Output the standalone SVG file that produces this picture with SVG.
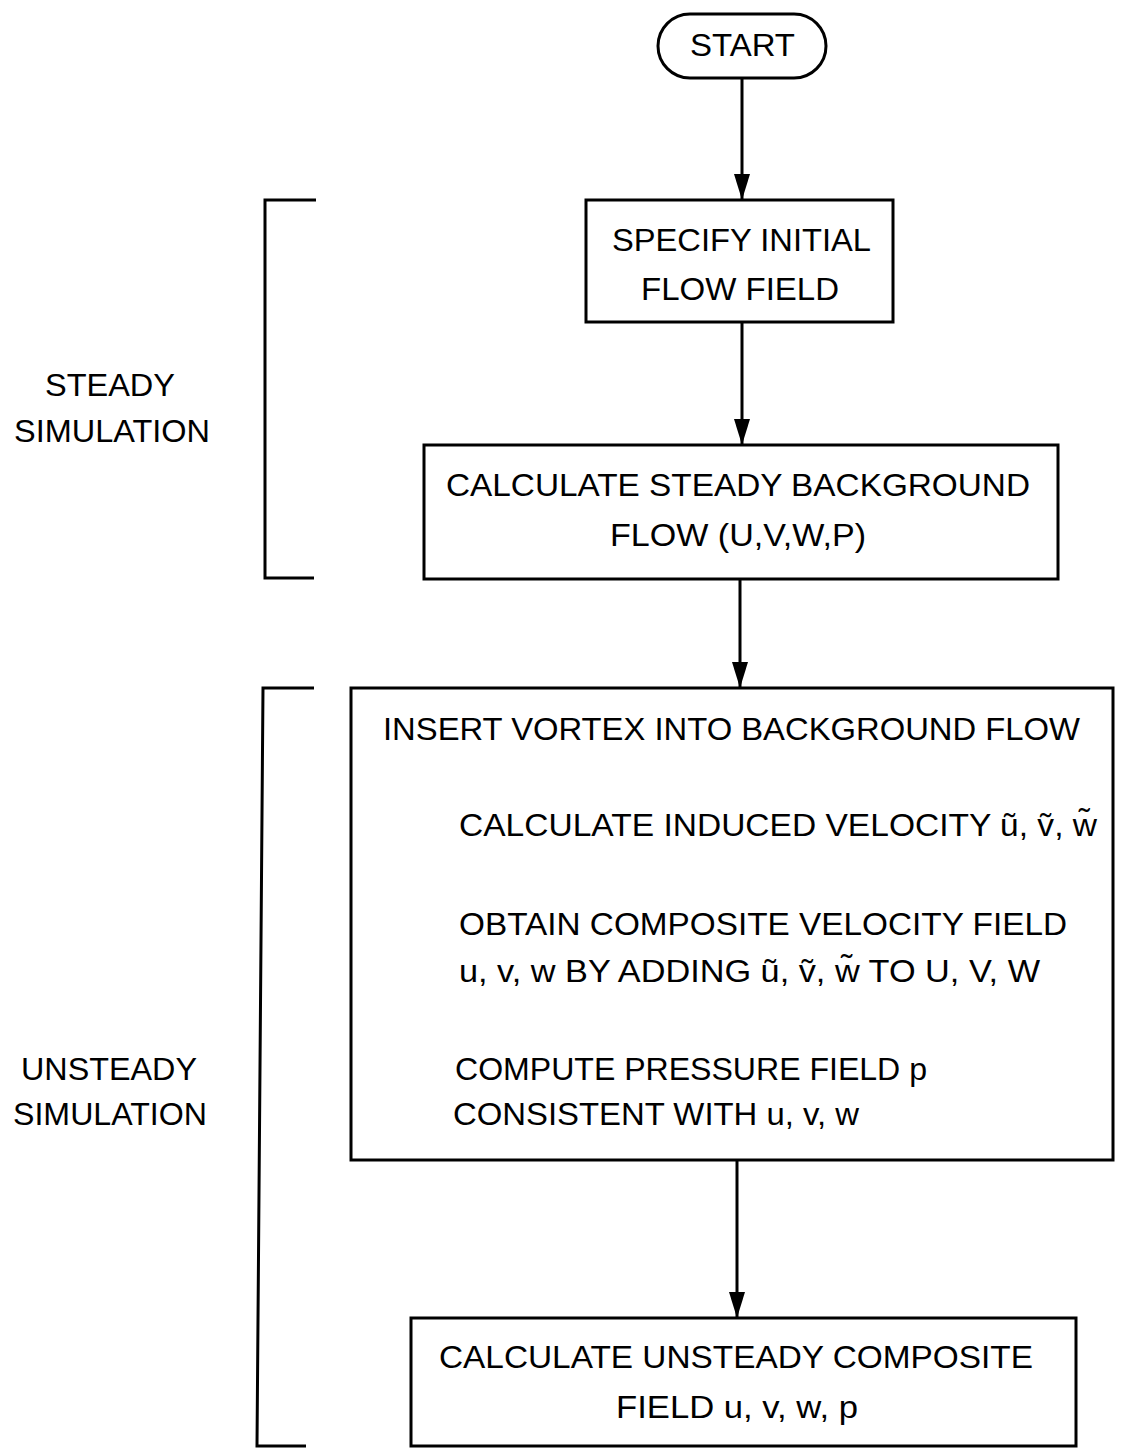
<svg xmlns="http://www.w3.org/2000/svg" width="1130" height="1451" viewBox="0 0 1130 1451">
<style>
.box{fill:#fff;stroke:#000;stroke-width:3}
.t{font-family:"Liberation Sans",Arial,sans-serif;font-size:32px;fill:#000}
.ln{fill:none;stroke:#000;stroke-width:3}
</style>
<defs>
<marker id="ah" markerWidth="26" markerHeight="16" refX="25" refY="8" orient="auto" markerUnits="userSpaceOnUse" viewBox="0 0 26 16">
<path d="M0,0 L26,8 L0,16 Z" fill="#000"/>
</marker>
</defs>
<rect width="1130" height="1451" fill="#fff"/>
<g id="connectors">
<line class="ln" x1="742" y1="78" x2="742" y2="199" marker-end="url(#ah)"/>
<line class="ln" x1="742" y1="322" x2="742" y2="444" marker-end="url(#ah)"/>
<line class="ln" x1="740" y1="579" x2="740" y2="687" marker-end="url(#ah)"/>
<line class="ln" x1="737" y1="1160" x2="737" y2="1317" marker-end="url(#ah)"/>
</g>
<g id="start">
<rect class="box" x="658" y="14" width="168" height="64" rx="32" ry="32"/>
<text class="t" x="690" y="56" textLength="105" lengthAdjust="spacingAndGlyphs">START</text>
</g>
<g id="specify">
<rect class="box" x="586" y="200" width="307" height="122"/>
<text class="t" x="612" y="251" textLength="259" lengthAdjust="spacingAndGlyphs">SPECIFY INITIAL</text>
<text class="t" x="641" y="300" textLength="198" lengthAdjust="spacingAndGlyphs">FLOW FIELD</text>
</g>
<g id="steady">
<rect class="box" x="424" y="445" width="634" height="134"/>
<text class="t" x="446" y="496" textLength="584" lengthAdjust="spacingAndGlyphs">CALCULATE STEADY BACKGROUND</text>
<text class="t" x="610" y="546" textLength="256" lengthAdjust="spacingAndGlyphs">FLOW (U,V,W,P)</text>
</g>
<g id="insert">
<rect class="box" x="351" y="688" width="762" height="472"/>
<text class="t" x="383" y="740" textLength="697" lengthAdjust="spacingAndGlyphs">INSERT VORTEX INTO BACKGROUND FLOW</text>
<text class="t" x="459" y="836" textLength="638" lengthAdjust="spacingAndGlyphs">CALCULATE INDUCED VELOCITY ũ, ṽ, w̃</text>
<text class="t" x="459" y="935" textLength="608" lengthAdjust="spacingAndGlyphs">OBTAIN COMPOSITE VELOCITY FIELD</text>
<text class="t" x="459" y="982" textLength="581" lengthAdjust="spacingAndGlyphs">u, v, w BY ADDING ũ, ṽ, w̃ TO U, V, W</text>
<text class="t" x="455" y="1080" textLength="472" lengthAdjust="spacingAndGlyphs">COMPUTE PRESSURE FIELD p</text>
<text class="t" x="453" y="1125" textLength="406" lengthAdjust="spacingAndGlyphs">CONSISTENT WITH u, v, w</text>
</g>
<g id="unsteady">
<rect class="box" x="411" y="1318" width="665" height="128"/>
<text class="t" x="439" y="1368" textLength="594" lengthAdjust="spacingAndGlyphs">CALCULATE UNSTEADY COMPOSITE</text>
<text class="t" x="616" y="1418" textLength="242" lengthAdjust="spacingAndGlyphs">FIELD u, v, w, p</text>
</g>
<g id="bracket-steady">
<path class="ln" d="M316,200 H265 V578 H314"/>
<text class="t" x="45" y="396" textLength="130" lengthAdjust="spacingAndGlyphs">STEADY</text>
<text class="t" x="14" y="442" textLength="196" lengthAdjust="spacingAndGlyphs">SIMULATION</text>
</g>
<g id="bracket-unsteady">
<path class="ln" d="M314,688 H263 L257,1446 H306"/>
<text class="t" x="21" y="1080" textLength="176" lengthAdjust="spacingAndGlyphs">UNSTEADY</text>
<text class="t" x="13" y="1125" textLength="194" lengthAdjust="spacingAndGlyphs">SIMULATION</text>
</g>
</svg>
